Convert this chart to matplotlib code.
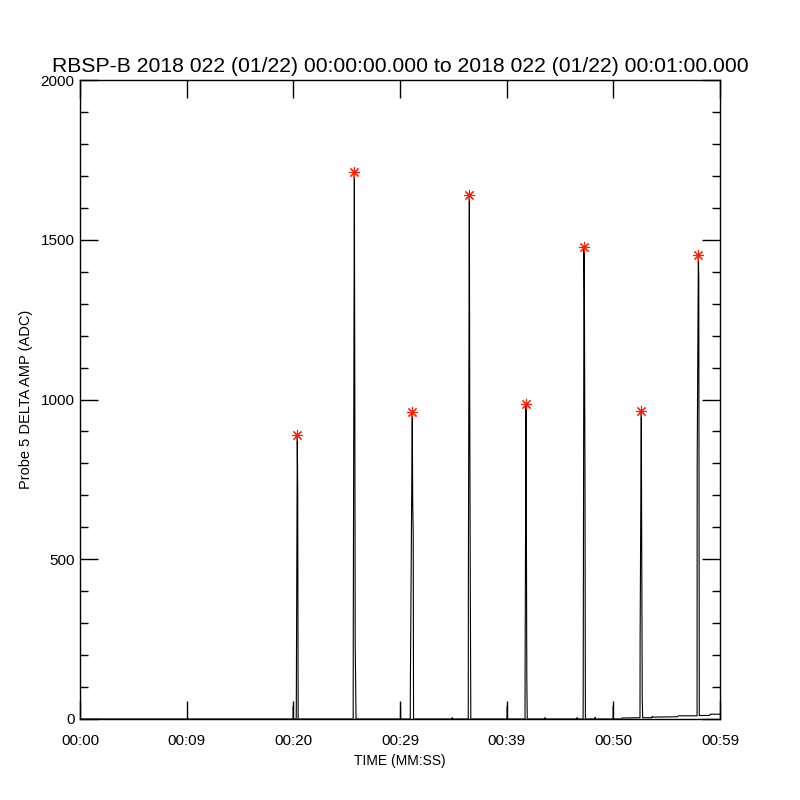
import matplotlib
matplotlib.use("Agg")
import matplotlib.pyplot as plt
from matplotlib.ticker import MultipleLocator, FixedLocator

plt.rcParams['font.family'] = ['Liberation Sans', 'DejaVu Sans']

# sampled trace (seconds, ADC)
time_s = [0.0, 19.99, 20.0, 20.01,
          20.27, 20.28, 20.37, 20.41, 20.45,
          25.61, 25.62, 25.72, 25.76, 25.80, 25.88,
          30.04, 30.05, 30.06,
          30.96, 30.97, 31.07, 31.15, 31.19, 31.24, 31.27,
          34.89, 34.9, 34.91,
          36.40, 36.41, 36.50, 36.54, 36.59, 36.64,
          40.05, 40.06, 40.07,
          41.72, 41.73, 41.81, 41.85, 41.89, 41.93,
          43.59, 43.6, 43.61,
          46.59, 46.6, 46.61,
          47.16, 47.17, 47.25, 47.29, 47.34, 47.38,
          48.29, 48.3, 48.31,
          49.99, 50.0, 50.01,
          50.7, 50.8, 52.5,
          52.51, 52.62, 52.66, 52.71, 52.75,
          53.6, 53.65, 53.7, 56.0, 56.1, 57.85,
          57.86, 57.97, 58.01, 58.06,
          59.0, 59.1, 60.0]
amp_adc = [0, 0, 40, 0,
           0, 50, 888, 722, 0,
           0, 293, 1713, 1095, 236, 0,
           0, 40, 0,
           0, 96, 578, 962, 680, 578, 0,
           0, 4, 0,
           0, 425, 1641, 954, 425, 0,
           0, 40, 0,
           0, 162, 986, 584, 121, 0,
           0, 4, 0,
           0, 4, 0,
           0, 21, 1477, 1306, 763, 0,
           0, 5, 0,
           0, 41, 0,
           0, 3, 4,
           246, 964, 547, 64, 4,
           4, 8, 6, 7, 10, 10,
           791, 1453, 1383, 11,
           11, 15, 15]

peak_times = [20.37, 25.72, 31.15, 36.50, 41.81, 47.25, 52.62, 57.97]
peak_values = [888, 1713, 962, 1641, 986, 1477, 964, 1453]

xtick_pos = [0, 10, 20, 30, 40, 50, 60]
xtick_labels = ['00:00', '00:09', '00:20', '00:29', '00:39', '00:50', '00:59']
ytick_pos = [0, 500, 1000, 1500, 2000]

title = 'RBSP-B 2018 022 (01/22) 00:00:00.000 to 2018 022 (01/22) 00:01:00.000'

fig = plt.figure(figsize=(8, 8), dpi=100)
ax = fig.add_axes([0.1, 0.10125, 0.8, 0.79875])

ax.plot(time_s, amp_adc, color='black', lw=0.8)
ax.plot(peak_times, peak_values, linestyle='none', marker=(8, 2, 0),
        markersize=8, markeredgecolor='#ff1a00', markerfacecolor='#ff1a00', mew=0.8)

ax.set_xlim(0, 60)
ax.set_ylim(0, 2000)
ax.xaxis.set_major_locator(FixedLocator(xtick_pos))
ax.set_xticklabels(xtick_labels)
ax.yaxis.set_major_locator(FixedLocator(ytick_pos))
ax.yaxis.set_minor_locator(MultipleLocator(100))

ax.tick_params(axis='x', which='major', direction='in', top=True, bottom=True,
               length=13, width=1, labelsize=11, pad=11)
ax.tick_params(axis='y', which='major', direction='in', left=True, right=True,
               length=13, width=1, labelsize=11, pad=4)
ax.tick_params(axis='y', which='minor', direction='in', left=True, right=True,
               length=6, width=1)

for s in ax.spines.values():
    s.set_linewidth(1.0)

ax.set_xlabel('TIME (MM:SS)', fontsize=10, labelpad=4)
ax.set_ylabel('Probe 5 DELTA AMP (ADC)', fontsize=10.5, labelpad=5)
ax.set_title(title, fontsize=15.2, pad=6)

fig.savefig('out.png', dpi=100)
